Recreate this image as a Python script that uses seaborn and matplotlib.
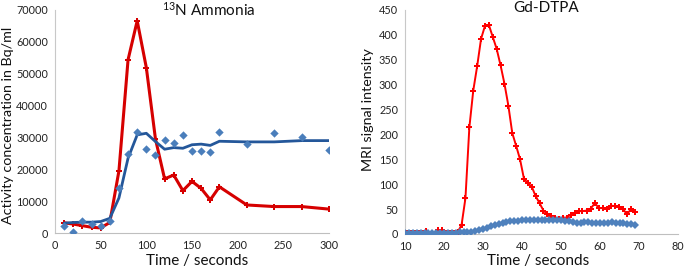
import matplotlib
matplotlib.use("Agg")
import matplotlib.pyplot as plt
import seaborn as sns
import pandas as pd

# ---- Left panel: 13N Ammonia ----
t_left = [10, 20, 30, 40, 50, 60, 70, 80, 90, 100, 110, 120, 130, 140, 150, 160,
          170, 180, 210, 240, 270, 300]
red_left = [3200, 2800, 2300, 1800, 1600, 3300, 19500, 54400, 66600, 51900, 29500,
            17000, 18200, 13300, 16200, 14000, 10400, 14500, 8800, 8300, 8300, 7500]
blue_pts_left = [2200, 400, 3850, 2700, 2150, 3850, 14000, 24800, 31800, 26300, 24500,
                 29200, 28200, 30800, 25800, 25800, 25500, 31600, 27900, 31400, 30100, 25900]
blue_trend_left = [3100, 3300, 3400, 3400, 3600, 4600, 11000, 23500, 30800, 31300, 28700,
                   26300, 26800, 26600, 27700, 27900, 27500, 28800, 28600, 28600, 29000, 29000]

# ---- Right panel: Gd-DTPA ----
t_red_right = [10.5, 11.5, 12.5, 13.5, 14.5, 15.5, 16.5, 17.5, 18.5, 19.5, 20.5, 21.5,
               22.5, 23.5, 24.5, 25.5, 26.5, 27.5, 28.5, 29.5, 30.5, 31.5, 32.5, 33.5,
               34.5, 35.5, 36.5, 37.5, 38.5, 39.5, 40.5, 41.5, 42.5, 43.5, 44.5, 45.5,
               46.5, 47.5, 48.5, 49.5, 50.5, 51.5, 52.5, 53.5, 54.5, 55.5, 56.6, 57.6,
               58.7, 59.7, 60.7, 61.8, 62.8, 63.8, 64.9, 65.9, 66.9, 68.0, 69.0]
red_right = [2, 2, 2, 2, 3, 6, 0, 0, 8, 8, 3, 3, 3, 4, 18, 72, 214, 288, 337, 392, 418,
             420, 396, 372, 339, 302, 258, 203, 177, 150, 111, 102, 95, 76, 62, 47, 40,
             36, 32, 31, 33, 33, 39, 42, 46, 46, 47, 51, 62, 52, 52, 50, 57, 56, 54, 50,
             40, 50, 44]
t_blue_right = [10, 11, 12, 13, 14, 15, 16, 17, 18, 19, 20, 21, 22, 23, 24, 25, 26, 27,
                28, 29, 30, 31, 32, 33, 34, 35, 36, 37, 38, 39, 40, 41, 42, 43, 44, 45,
                46, 47, 48, 49, 50, 51, 52, 53, 54, 55, 56, 57, 58, 59, 60, 61, 62, 63,
                64, 65, 66, 67, 68, 69]
blue_right = [2, 2, 2, 2, 2, 2, 2, 2, 2, 2, 2, 2, 2, 3, 4, 4, 5, 5, 6, 8, 10, 13, 16,
              19, 21, 23, 25, 26, 26, 27, 28, 28, 28, 28, 28, 28, 28, 28, 28, 28, 28,
              27, 26, 24, 23, 23, 24, 24, 23, 23, 22, 22, 22, 25, 23, 22, 22, 21, 20, 18]

sns.set_style("white")
plt.rcParams["font.family"] = ["Lato", "DejaVu Sans"]
plt.rcParams["mathtext.fontset"] = "custom"
plt.rcParams["mathtext.rm"] = "Lato"
plt.rcParams["mathtext.it"] = "Lato"

W, H = 685, 270
fig = plt.figure(figsize=(W / 100, H / 100), dpi=100)

def box(x0, y0, x1, y1):
    return [x0 / W, 1 - y1 / H, (x1 - x0) / W, (y1 - y0) / H]

ax1 = fig.add_axes(box(55, 10, 329, 233))
ax2 = fig.add_axes(box(405, 10, 678, 234))

RED_L = "#D60000"
BLUE_LINE = "#24579A"
BLUE_PT = "#4A7EBB"
RED_R = "#FF0000"
BLUE_R = "#4F81BD"
BLUE_R_LINE = "#3E6FAE"

df_l = pd.DataFrame({"t": t_left, "red": red_left, "pts": blue_pts_left, "trend": blue_trend_left})
sns.lineplot(data=df_l, x="t", y="red", ax=ax1, color=RED_L, lw=2.2, marker="P",
             markersize=4, markeredgewidth=0, zorder=3)
sns.lineplot(data=df_l, x="t", y="trend", ax=ax1, color=BLUE_LINE, lw=2.0, zorder=4)
sns.scatterplot(data=df_l, x="t", y="pts", ax=ax1, color=BLUE_PT, marker="D", s=18,
                linewidth=0, zorder=5)

df_rr = pd.DataFrame({"t": t_red_right, "v": red_right})
df_rb = pd.DataFrame({"t": t_blue_right, "v": blue_right})
sns.lineplot(data=df_rr, x="t", y="v", ax=ax2, color=RED_R, lw=1.4, marker="P",
             markersize=4.6, markeredgewidth=0, zorder=3)
sns.lineplot(data=df_rb, x="t", y="v", ax=ax2, color=BLUE_R_LINE, lw=1.3, marker="D",
             markersize=3.6, markeredgewidth=0, markerfacecolor=BLUE_R, zorder=4)

ax1.set_xlim(0, 300)
ax1.set_ylim(0, 70000)
ax1.set_xticks(range(0, 301, 50))
ax1.set_yticks(range(0, 70001, 10000))
ax2.set_xlim(10, 80)
ax2.set_ylim(0, 450)
ax2.set_xticks(range(10, 81, 10))
ax2.set_yticks(range(0, 451, 50))

for ax in (ax1, ax2):
    ax.set_xlabel("")
    ax.set_ylabel("")
    sns.despine(ax=ax)
    ax.spines["left"].set_color("#C8C8C8")
    ax.spines["bottom"].set_color("#BFBFBF")
    ax.spines["left"].set_linewidth(0.8)
    ax.spines["bottom"].set_linewidth(0.8)
    ax.tick_params(axis="both", which="both", direction="out", length=3, width=0.8,
                   color="#BFBFBF", labelsize=7.8, labelcolor="#222222", pad=2)

fig.text(209 / W, 1 - 10 / H, "$^{13}$N Ammonia", ha="center", va="center", fontsize=11, color="#111111")
fig.text(546 / W, 1 - 8 / H, "Gd-DTPA", ha="center", va="center", fontsize=11, color="#111111")
fig.text(197 / W, 1 - 261 / H, "Time / seconds", ha="center", va="center", fontsize=11, color="#111111")
fig.text(538 / W, 1 - 261 / H, "Time / seconds", ha="center", va="center", fontsize=11, color="#111111")
fig.text(8 / W, 1 - 125 / H, "Activity concentration in Bq/ml", ha="center", va="center",
         rotation=90, fontsize=10.3, color="#111111")
fig.text(368 / W, 1 - 110 / H, "MRI signal intensity", ha="center", va="center",
         rotation=90, fontsize=10.3, color="#111111")

fig.savefig("out.png", dpi=100)
